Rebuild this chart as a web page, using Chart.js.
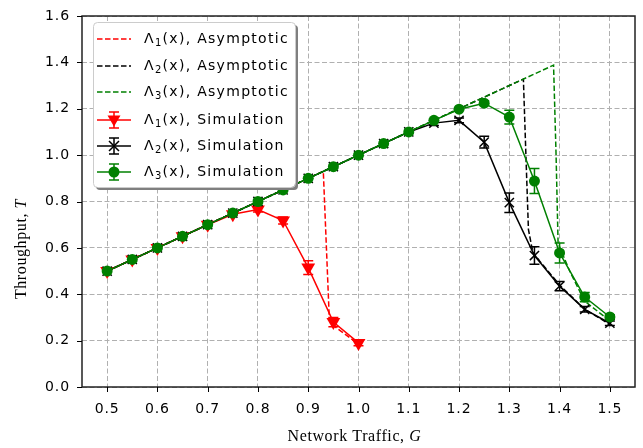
<!DOCTYPE html>
<html><head><meta charset="utf-8">
<script src="https://cdn.jsdelivr.net/npm/chart.js@4/dist/chart.umd.min.js"></script>
<style>html,body{margin:0;padding:0;background:#fff}</style>
</head><body>
<canvas id="c" width="643" height="448"></canvas>
<script>
// ---- data ----
const xTicks = [0.5,0.6,0.7,0.8,0.9,1.0,1.1,1.2,1.3,1.4,1.5];
const yTicks = [0.0,0.2,0.4,0.6,0.8,1.0,1.2,1.4,1.6];

const sim1G = [0.5,0.55,0.6,0.65,0.7,0.75,0.8,0.85,0.9,0.95,1.0];
const sim1T = [0.5,0.55,0.6,0.65,0.7,0.745,0.765,0.718,0.515,0.28,0.19];
const sim1E = [0,0,0,0,0,0.005,0.01,0.015,0.03,0.02,0.012];

const sim2G = [0.5,0.55,0.6,0.65,0.7,0.75,0.8,0.85,0.9,0.95,1.0,1.05,1.1,1.15,1.2,1.25,1.3,1.35,1.4,1.45,1.5];
const sim2T = [0.5,0.55,0.6,0.65,0.7,0.75,0.8,0.85,0.9,0.95,1.0,1.05,1.1,1.138,1.15,1.056,0.795,0.567,0.435,0.335,0.275];
const sim2E = [0,0,0,0,0,0,0,0,0,0,0,0,0,0.01,0.01,0.025,0.042,0.038,0.02,0.012,0.01];

const sim3G = [0.5,0.55,0.6,0.65,0.7,0.75,0.8,0.85,0.9,0.95,1.0,1.05,1.1,1.15,1.2,1.25,1.3,1.35,1.4,1.45,1.5];
const sim3T = [0.5,0.55,0.6,0.65,0.7,0.75,0.8,0.85,0.9,0.95,1.0,1.05,1.1,1.15,1.198,1.224,1.164,0.888,0.578,0.388,0.302];
const sim3E = [0,0,0,0,0,0,0,0,0,0,0,0,0,0,0,0.01,0.03,0.054,0.043,0.02,0.01];

const asym1G = [0.5,0.93,0.942,0.95,1.0];
const asym1T = [0.5,0.93,0.29,0.265,0.185];
const asym2G = [0.5,1.328,1.333,1.338,1.345,1.35,1.4,1.45,1.5];
const asym2T = [0.5,1.328,1.0,0.68,0.6,0.57,0.44,0.335,0.27];
const asym3G = [0.5,1.388,1.393,1.397,1.42,1.45,1.5];
const asym3T = [0.5,1.388,1.0,0.62,0.5,0.37,0.285];

const colors = ['#ff0000','#000000','#008000'];
const subs = ['1','2','3'];
const legendKinds = ['Asymptotic','Asymptotic','Asymptotic','Simulation','Simulation','Simulation'];
const xTitle = ['Network Traffic, ', 'G'];
const yTitle = ['Throughput, ', 'T'];

const pts = (g,t) => g.map((v,i)=>({x:v,y:t[i]}));

const SANS = '"DejaVu Sans"';

function drawMarker(ctx, kind, x, y, color){
  ctx.save();
  ctx.fillStyle = color; ctx.strokeStyle = color; ctx.lineWidth = 1.5; ctx.setLineDash([]);
  if (kind === 0){ // triangle down
    ctx.beginPath();
    ctx.moveTo(x - 6.5, y - 4.5);
    ctx.lineTo(x + 6.5, y - 4.5);
    ctx.lineTo(x, y + 6.5);
    ctx.closePath(); ctx.fill();
  } else if (kind === 1){ // x
    const r = 5;
    ctx.beginPath();
    ctx.moveTo(x-r,y-r); ctx.lineTo(x+r,y+r);
    ctx.moveTo(x-r,y+r); ctx.lineTo(x+r,y-r);
    ctx.stroke();
  } else {
    ctx.beginPath(); ctx.arc(x,y,5.5,0,Math.PI*2); ctx.fill();
  }
  ctx.restore();
}

const simSets = [
  {G:sim1G,T:sim1T,E:sim1E},
  {G:sim2G,T:sim2T,E:sim2E},
  {G:sim3G,T:sim3T,E:sim3E}
];

const helperPlugin = {
  id:'helper',
  beforeUpdate(chart){ chart.ctx.letterSpacing = '0.9px'; },
  beforeDraw(chart){ chart.ctx.letterSpacing = '0.9px'; },
  beforeDatasetsDraw(chart){
    const ctx = chart.ctx, xs = chart.scales.x, ys = chart.scales.y;
    ctx.save();
    ctx.lineWidth = 1.5; ctx.setLineDash([]);
    simSets.forEach((s,k)=>{
      ctx.strokeStyle = colors[k];
      s.G.forEach((g,i)=>{
        const e = s.E[i]; if(!e) return;
        const px = xs.getPixelForValue(g);
        const y1 = ys.getPixelForValue(s.T[i]-e), y2 = ys.getPixelForValue(s.T[i]+e);
        ctx.beginPath();
        ctx.moveTo(px,y1); ctx.lineTo(px,y2);
        ctx.moveTo(px-5,y1); ctx.lineTo(px+5,y1);
        ctx.moveTo(px-5,y2); ctx.lineTo(px+5,y2);
        ctx.stroke();
      });
    });
    ctx.restore();
  },
  afterDraw(chart){
    const ctx = chart.ctx, a = chart.chartArea, xs = chart.scales.x, ys = chart.scales.y;
    ctx.save();
    ctx.letterSpacing = '0px';
    // frame
    ctx.strokeStyle = '#222'; ctx.lineWidth = 1.5; ctx.setLineDash([]);
    ctx.strokeRect(a.left, a.top, a.right-a.left, a.bottom-a.top);
    // tick marks
    ctx.lineWidth = 1; ctx.strokeStyle = '#000';
    ctx.beginPath();
    xTicks.forEach(v=>{const p = Math.round(xs.getPixelForValue(v))+0.5; ctx.moveTo(p,a.bottom); ctx.lineTo(p,a.bottom+5);});
    yTicks.forEach(v=>{const p = Math.round(ys.getPixelForValue(v))+0.5; ctx.moveTo(a.left-5,p); ctx.lineTo(a.left,p);});
    ctx.stroke();

    // axis titles
    ctx.fillStyle = '#000'; ctx.textBaseline = 'middle';
    const norm = '16px "Liberation Serif"', ital = 'italic 16px "Liberation Serif"';
    ctx.letterSpacing = '0.6px';
    ctx.font = norm; const w1 = ctx.measureText(xTitle[0]).width;
    ctx.font = ital; const w2 = ctx.measureText(xTitle[1]).width;
    let sx = (a.left+a.right)/2 - (w1+w2)/2 - 4;
    ctx.textAlign = 'left';
    ctx.font = norm; ctx.fillText(xTitle[0], sx, 437);
    ctx.font = ital; ctx.fillText(xTitle[1], sx+w1, 437);
    ctx.save();
    ctx.translate(22, 249); ctx.rotate(-Math.PI/2);
    ctx.font = norm; const v1 = ctx.measureText(yTitle[0]).width;
    ctx.font = ital; const v2 = ctx.measureText(yTitle[1]).width;
    const sy = -(v1+v2)/2;
    ctx.font = norm; ctx.fillText(yTitle[0], sy, 0);
    ctx.font = ital; ctx.fillText(yTitle[1], sy+v1, 0);
    ctx.restore();

    // legend
    const L = 93, T = 22, W = 202, H = 165;
    const rr = (x,y,w,h,r)=>{ctx.beginPath();ctx.moveTo(x+r,y);ctx.arcTo(x+w,y,x+w,y+h,r);ctx.arcTo(x+w,y+h,x,y+h,r);ctx.arcTo(x,y+h,x,y,r);ctx.arcTo(x,y,x+w,y,r);ctx.closePath();};
    ctx.fillStyle = '#7f7f7f'; rr(L+3,T+3,W,H,4); ctx.fill();
    ctx.fillStyle = '#ffffff'; rr(L,T,W,H,4); ctx.fill();
    ctx.strokeStyle = '#cccccc'; ctx.lineWidth = 1; rr(L+0.5,T+0.5,W,H,4); ctx.stroke();
    const rowY = [39,66,92,120,146,172];
    ctx.letterSpacing = '1.3px';
    rowY.forEach((y,i)=>{
      const k = i % 3, sim = i >= 3;
      ctx.strokeStyle = colors[k]; ctx.lineWidth = 1.5;
      ctx.setLineDash(sim ? [] : [5.5,2.5]);
      ctx.beginPath(); ctx.moveTo(97,y); ctx.lineTo(131,y); ctx.stroke();
      ctx.setLineDash([]);
      if (sim){
        ctx.beginPath();
        ctx.moveTo(114,y-8); ctx.lineTo(114,y+8);
        ctx.moveTo(109,y-8); ctx.lineTo(119,y-8);
        ctx.moveTo(109,y+8); ctx.lineTo(119,y+8);
        ctx.stroke();
        drawMarker(ctx,k,114,y,colors[k]);
      }
      ctx.fillStyle = '#000'; ctx.textAlign='left'; ctx.textBaseline='middle';
      ctx.font = '14px ' + SANS;
      let x = 144;
      ctx.fillText('Λ', x, y); x += ctx.measureText('Λ').width;
      ctx.font = '10px ' + SANS;
      ctx.fillText(subs[k], x, y+4); x += ctx.measureText(subs[k]).width;
      ctx.font = '14px ' + SANS;
      ctx.fillText('(x), ' + legendKinds[i], x, y);
    });
    ctx.restore();
  }
};

const asymDs = (g,t,c,o)=>({type:'line',data:pts(g,t),borderColor:c,borderWidth:1.5,borderDash:[5.5,2.5],pointRadius:0,showLine:true,fill:false,order:o,tension:0});

const chart = new Chart(document.getElementById('c'), {
  type:'scatter',
  data:{datasets:[
    asymDs(asym1G,asym1T,colors[0],5),
    asymDs(asym2G,asym2T,colors[1],4),
    asymDs(asym3G,asym3T,colors[2],3),
    {data:pts(sim1G,sim1T),showLine:true,borderColor:colors[0],backgroundColor:colors[0],borderWidth:1.5,
      pointStyle:'triangle',rotation:180,pointRadius:8,pointBorderWidth:0,order:2},
    {data:pts(sim2G,sim2T),showLine:true,borderColor:colors[1],backgroundColor:colors[1],borderWidth:1.5,
      pointStyle:'crossRot',pointRadius:6.5,pointBorderWidth:1.5,order:1},
    {data:pts(sim3G,sim3T),showLine:true,borderColor:colors[2],backgroundColor:colors[2],borderWidth:1.5,
      pointStyle:'circle',pointRadius:5.5,pointBorderWidth:0,order:0}
  ]},
  options:{
    responsive:false, animation:false, devicePixelRatio:1,
    layout:{padding:{top:16,right:3,left:0,bottom:0}},
    plugins:{legend:{display:false},tooltip:{enabled:false}},
    scales:{
      x:{type:'linear',min:0.45,max:1.55,
        afterBuildTicks:s=>{s.ticks = xTicks.map(v=>({value:v}));},
        afterFit:s=>{s.height = 61; s.paddingLeft = 0; s.paddingRight = 0;},
        ticks:{callback:v=>Number(v).toFixed(1),color:'#000',font:{family:'DejaVu Sans',size:14},padding:14,maxRotation:0,autoSkip:false},
        grid:{color:'#b0b0b0',lineWidth:1,drawTicks:false},
        border:{display:false,dash:[5,2.5]}
      },
      y:{type:'linear',min:0,max:1.6,
        afterBuildTicks:s=>{s.ticks = yTicks.map(v=>({value:v}));},
        afterFit:s=>{s.width = 82; s.paddingTop = 0; s.paddingBottom = 0;},
        ticks:{callback:v=>Number(v).toFixed(1),color:'#000',font:{family:'DejaVu Sans',size:14},padding:12,autoSkip:false},
        grid:{color:'#b0b0b0',lineWidth:1,drawTicks:false},
        border:{display:false,dash:[5,2.5]}
      }
    }
  },
  plugins:[helperPlugin]
});
</script>
</body></html>
